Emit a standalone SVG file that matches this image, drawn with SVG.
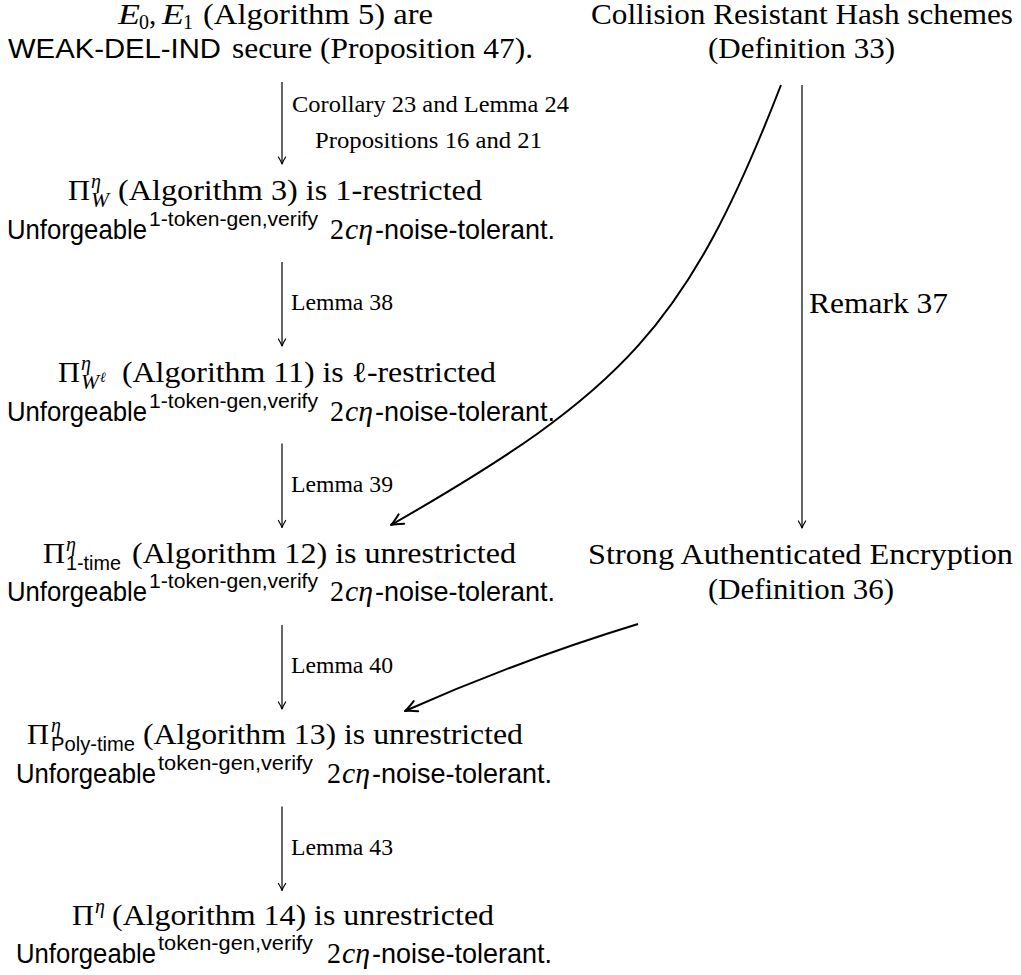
<svg xmlns="http://www.w3.org/2000/svg" width="1021" height="975" viewBox="0 0 1021 975">
<style>
.rm{font-family:"Liberation Serif","DejaVu Serif",serif;font-size:29px;fill:#000}
.it{font-style:italic}
.sm{font-family:"Liberation Serif","DejaVu Serif",serif;font-size:20px;fill:#000}
.lbl{font-family:"Liberation Serif","DejaVu Serif",serif;font-size:22.6px;fill:#000}
.sf{font-family:"Liberation Sans","DejaVu Sans",sans-serif;font-size:28px;fill:#000}
.ssf{font-family:"Liberation Sans","DejaVu Sans",sans-serif;font-size:20px;fill:#000}
.tiny{font-family:"Liberation Serif","DejaVu Serif",serif;font-size:14px;fill:#000}
.thin{fill:none;stroke:#000;stroke-width:1.2}
.thick{fill:none;stroke:#000;stroke-width:2}
</style>
<defs>
<marker id="ah" markerUnits="userSpaceOnUse" viewBox="-10 -6 12 12" refX="0" refY="0" markerWidth="12" markerHeight="12" orient="auto" overflow="visible">
<path d="M-7,-3.6 Q-2.5,-0.8 0,0 Q-2.5,0.8 -7,3.6" fill="none" stroke="#000" stroke-width="1.2" stroke-linecap="round" stroke-linejoin="round"/>
</marker>
<marker id="ahb" markerUnits="userSpaceOnUse" viewBox="-14 -8 16 16" refX="0" refY="0" markerWidth="16" markerHeight="16" orient="auto" overflow="visible">
<path d="M-12,-5.5 Q-4,-1.2 0,0 Q-4,1.2 -12,5.5" fill="none" stroke="#000" stroke-width="2" stroke-linecap="round" stroke-linejoin="round"/>
</marker>
</defs>
<rect width="1021" height="975" fill="#fff"/>

<g id="n1">
<text class="rm it" x="118" y="24" textLength="22" lengthAdjust="spacingAndGlyphs">E</text>
<text class="sm" x="139" y="28.5">0</text>
<text class="rm" x="149" y="24">,</text>
<text class="rm it" x="162" y="24" textLength="22" lengthAdjust="spacingAndGlyphs">E</text>
<text class="sm" x="183" y="28.5">1</text>
<text class="rm" x="203" y="24" textLength="230" lengthAdjust="spacingAndGlyphs">(Algorithm 5) are</text>
<text class="sf" x="8" y="58" textLength="213" lengthAdjust="spacingAndGlyphs">WEAK-DEL-IND</text>
<text class="rm" x="232" y="58" textLength="301" lengthAdjust="spacingAndGlyphs">secure (Proposition 47).</text>
</g>

<g id="n_crh">
<text class="rm" x="591" y="24" textLength="422" lengthAdjust="spacingAndGlyphs">Collision Resistant Hash schemes</text>
<text class="rm" x="708" y="58" textLength="187" lengthAdjust="spacingAndGlyphs">(Definition 33)</text>
</g>

<g id="n2">
<text class="rm" x="68" y="200" textLength="22" lengthAdjust="spacingAndGlyphs">Π</text>
<text class="sm it" x="91" y="188">η</text>
<text class="sm it" x="91" y="207" textLength="18" lengthAdjust="spacingAndGlyphs">W</text>
<text class="rm" x="118" y="200" textLength="364" lengthAdjust="spacingAndGlyphs">(Algorithm 3) is 1-restricted</text>
<text class="sf" x="7" y="239" textLength="140" lengthAdjust="spacingAndGlyphs">Unforgeable</text>
<text class="ssf" x="149" y="226" textLength="169" lengthAdjust="spacingAndGlyphs">1-token-gen,verify</text>
<text class="rm" x="330" y="239" textLength="14" lengthAdjust="spacingAndGlyphs">2</text>
<text class="rm it" x="345" y="239" textLength="28" lengthAdjust="spacingAndGlyphs">cη</text>
<text class="sf" x="375" y="239" textLength="180" lengthAdjust="spacingAndGlyphs">-noise-tolerant.</text>
</g>

<g id="n3">
<text class="rm" x="58" y="382" textLength="22" lengthAdjust="spacingAndGlyphs">Π</text>
<text class="sm it" x="81" y="370">η</text>
<text class="sm it" x="81" y="389" textLength="18" lengthAdjust="spacingAndGlyphs">W</text>
<text class="tiny it" x="100" y="382">ℓ</text>
<text class="rm" x="122" y="382" textLength="374" lengthAdjust="spacingAndGlyphs">(Algorithm 11) is ℓ-restricted</text>
<text class="sf" x="7" y="421" textLength="140" lengthAdjust="spacingAndGlyphs">Unforgeable</text>
<text class="ssf" x="149" y="408" textLength="169" lengthAdjust="spacingAndGlyphs">1-token-gen,verify</text>
<text class="rm" x="330" y="421" textLength="14" lengthAdjust="spacingAndGlyphs">2</text>
<text class="rm it" x="345" y="421" textLength="28" lengthAdjust="spacingAndGlyphs">cη</text>
<text class="sf" x="375" y="421" textLength="180" lengthAdjust="spacingAndGlyphs">-noise-tolerant.</text>
</g>

<g id="n4">
<text class="rm" x="43" y="563" textLength="22" lengthAdjust="spacingAndGlyphs">Π</text>
<text class="sm it" x="66" y="551">η</text>
<text class="ssf" x="66" y="570" textLength="55" lengthAdjust="spacingAndGlyphs">1-time</text>
<text class="rm" x="132" y="563" textLength="384" lengthAdjust="spacingAndGlyphs">(Algorithm 12) is unrestricted</text>
<text class="sf" x="7" y="601" textLength="140" lengthAdjust="spacingAndGlyphs">Unforgeable</text>
<text class="ssf" x="149" y="588" textLength="169" lengthAdjust="spacingAndGlyphs">1-token-gen,verify</text>
<text class="rm" x="330" y="601" textLength="14" lengthAdjust="spacingAndGlyphs">2</text>
<text class="rm it" x="345" y="601" textLength="28" lengthAdjust="spacingAndGlyphs">cη</text>
<text class="sf" x="375" y="601" textLength="180" lengthAdjust="spacingAndGlyphs">-noise-tolerant.</text>
</g>

<g id="n5">
<text class="rm" x="27" y="744" textLength="22" lengthAdjust="spacingAndGlyphs">Π</text>
<text class="sm it" x="51" y="732">η</text>
<text class="ssf" x="51" y="751" textLength="84" lengthAdjust="spacingAndGlyphs">Poly-time</text>
<text class="rm" x="143" y="744" textLength="380" lengthAdjust="spacingAndGlyphs">(Algorithm 13) is unrestricted</text>
<text class="sf" x="16" y="783" textLength="140" lengthAdjust="spacingAndGlyphs">Unforgeable</text>
<text class="ssf" x="158" y="770" textLength="155" lengthAdjust="spacingAndGlyphs">token-gen,verify</text>
<text class="rm" x="327" y="783" textLength="14" lengthAdjust="spacingAndGlyphs">2</text>
<text class="rm it" x="342" y="783" textLength="28" lengthAdjust="spacingAndGlyphs">cη</text>
<text class="sf" x="372" y="783" textLength="180" lengthAdjust="spacingAndGlyphs">-noise-tolerant.</text>
</g>

<g id="n6">
<text class="rm" x="72" y="925" textLength="22" lengthAdjust="spacingAndGlyphs">Π</text>
<text class="sm it" x="95" y="913">η</text>
<text class="rm" x="112" y="925" textLength="382" lengthAdjust="spacingAndGlyphs">(Algorithm 14) is unrestricted</text>
<text class="sf" x="16" y="963" textLength="140" lengthAdjust="spacingAndGlyphs">Unforgeable</text>
<text class="ssf" x="158" y="950" textLength="155" lengthAdjust="spacingAndGlyphs">token-gen,verify</text>
<text class="rm" x="327" y="963" textLength="14" lengthAdjust="spacingAndGlyphs">2</text>
<text class="rm it" x="342" y="963" textLength="28" lengthAdjust="spacingAndGlyphs">cη</text>
<text class="sf" x="372" y="963" textLength="180" lengthAdjust="spacingAndGlyphs">-noise-tolerant.</text>
</g>

<g id="n_sae">
<text class="rm" x="588" y="564" textLength="425" lengthAdjust="spacingAndGlyphs">Strong Authenticated Encryption</text>
<text class="rm" x="708" y="599" textLength="186" lengthAdjust="spacingAndGlyphs">(Definition 36)</text>
</g>

<g id="connectors">
<path class="thin" d="M282,82 V164" marker-end="url(#ah)"/>
<path class="thin" d="M282,262 V346" marker-end="url(#ah)"/>
<path class="thin" d="M282,443.5 V527.5" marker-end="url(#ah)"/>
<path class="thin" d="M282,625 V709" marker-end="url(#ah)"/>
<path class="thin" d="M282,806.5 V890.5" marker-end="url(#ah)"/>
<path class="thin" d="M802,85 V528" marker-end="url(#ah)"/>
<path class="thick" d="M781,85 C687,327 624,391.5 391,525" marker-end="url(#ahb)"/>
<path class="thick" d="M638,624 Q520,660 405,711" marker-end="url(#ahb)"/>
<text class="lbl" x="292" y="112" textLength="277" lengthAdjust="spacingAndGlyphs">Corollary 23 and Lemma 24</text>
<text class="lbl" x="315" y="148" textLength="227" lengthAdjust="spacingAndGlyphs">Propositions 16 and 21</text>
<text class="lbl" x="291" y="310" textLength="102" lengthAdjust="spacingAndGlyphs">Lemma 38</text>
<text class="lbl" x="291" y="491.5" textLength="102" lengthAdjust="spacingAndGlyphs">Lemma 39</text>
<text class="lbl" x="291" y="673" textLength="102" lengthAdjust="spacingAndGlyphs">Lemma 40</text>
<text class="lbl" x="291" y="855" textLength="102" lengthAdjust="spacingAndGlyphs">Lemma 43</text>
<text class="rm" x="809" y="313" textLength="139" lengthAdjust="spacingAndGlyphs">Remark 37</text>
</g>
</svg>
